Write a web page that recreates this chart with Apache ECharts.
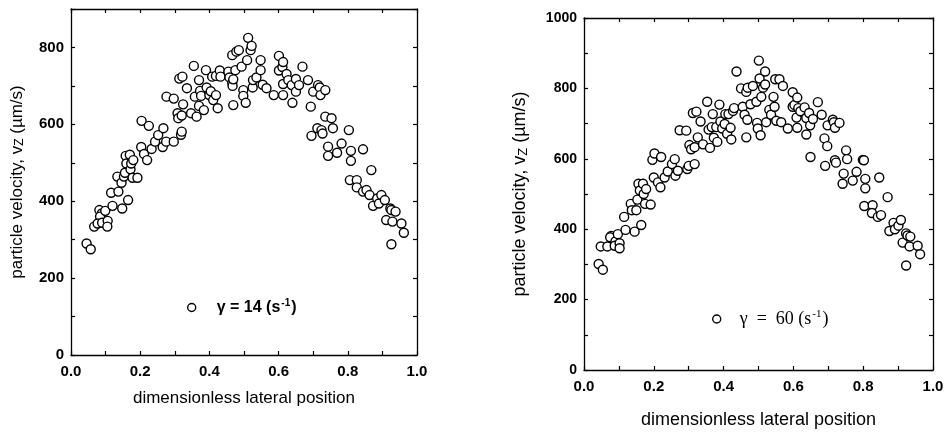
<!DOCTYPE html>
<html><head><meta charset="utf-8">
<script src="https://cdn.jsdelivr.net/npm/echarts@6/dist/echarts.min.js"></script>
<style>html,body{margin:0;padding:0;background:#fff}#c{width:948px;height:434px}</style>
</head><body><div id="c"></div>
<script>
// Left panel: gamma = 14 s^-1
const posLeft = [0.045,0.057,0.067,0.082,0.089,0.084,0.077,0.090,0.099,0.106,0.105,0.116,0.120,0.134,0.137,0.146,0.148,0.153,0.156,0.158,0.160,0.165,0.170,0.172,0.174,0.180,0.178,0.192,0.204,0.203,0.211,0.220,0.225,0.233,0.243,0.252,0.267,0.265,0.275,0.276,0.297,0.297,0.308,0.310,0.313,0.318,0.320,0.322,0.324,0.320,0.335,0.347,0.355,0.358,0.363,0.370,0.370,0.373,0.376,0.384,0.390,0.392,0.400,0.404,0.408,0.411,0.419,0.424,0.419,0.430,0.432,0.455,0.458,0.466,0.467,0.469,0.466,0.478,0.485,0.475,0.469,0.493,0.498,0.498,0.505,0.509,0.512,0.519,0.522,0.525,0.526,0.536,0.548,0.548,0.554,0.565,0.586,0.601,0.601,0.611,0.613,0.613,0.613,0.623,0.628,0.638,0.640,0.650,0.650,0.659,0.669,0.685,0.693,0.700,0.714,0.719,0.721,0.735,0.695,0.712,0.724,0.727,0.735,0.743,0.743,0.753,0.757,0.769,0.782,0.803,0.809,0.809,0.806,0.826,0.826,0.844,0.844,0.854,0.863,0.868,0.873,0.885,0.890,0.897,0.907,0.911,0.923,0.926,0.929,0.926,0.938,0.955,0.962];
const velLeft = [290,275,334,377,368,360,342,344,375,349,334,422,388,464,425,448,381,464,474,518,498,403,521,483,498,507,461,461,609,541,523,507,596,536,555,572,590,541,555,672,667,555,629,616,719,573,581,724,652,623,694,629,752,672,620,648,715,687,674,637,741,696,676,686,724,663,676,642,726,740,724,737,722,708,700,650,780,789,793,741,717,750,689,674,656,767,825,793,804,696,715,722,767,741,703,694,676,778,740,749,762,705,676,731,715,702,656,718,685,702,750,715,646,685,702,696,676,689,570,590,585,576,620,542,518,616,590,526,550,585,531,505,455,455,436,535,425,429,416,481,388,407,394,416,403,351,381,377,347,288,373,342,318];
// Right panel: gamma = 60 s^-1
const posRight = [0.042,0.054,0.048,0.067,0.078,0.075,0.090,0.088,0.097,0.102,0.102,0.115,0.119,0.134,0.137,0.145,0.150,0.153,0.156,0.160,0.164,0.169,0.171,0.178,0.175,0.191,0.196,0.202,0.200,0.212,0.219,0.221,0.231,0.240,0.252,0.260,0.262,0.269,0.274,0.293,0.296,0.300,0.302,0.307,0.312,0.317,0.317,0.322,0.326,0.334,0.341,0.353,0.357,0.361,0.366,0.369,0.372,0.379,0.382,0.388,0.391,0.396,0.403,0.405,0.410,0.414,0.420,0.422,0.427,0.430,0.437,0.450,0.455,0.460,0.465,0.468,0.469,0.465,0.477,0.484,0.494,0.496,0.498,0.501,0.503,0.506,0.508,0.513,0.519,0.519,0.522,0.531,0.536,0.543,0.546,0.548,0.551,0.560,0.565,0.570,0.584,0.598,0.598,0.603,0.611,0.611,0.614,0.609,0.620,0.632,0.637,0.637,0.645,0.648,0.649,0.656,0.670,0.681,0.689,0.697,0.691,0.698,0.713,0.716,0.719,0.719,0.722,0.732,0.744,0.741,0.751,0.754,0.770,0.781,0.799,0.802,0.806,0.806,0.803,0.827,0.825,0.846,0.842,0.851,0.870,0.875,0.887,0.891,0.901,0.908,0.913,0.923,0.927,0.933,0.923,0.935,0.956,0.963];
const velRight = [301,285,351,351,381,377,365,353,386,360,346,435,398,472,454,393,454,484,529,510,412,529,500,514,472,470,597,615,547,533,519,605,547,564,585,599,552,566,681,680,571,580,639,627,730,585,633,734,661,706,641,762,683,631,690,727,660,690,648,754,706,686,699,727,671,727,688,655,736,744,848,800,748,725,790,711,802,661,755,807,762,702,686,879,828,667,776,802,848,811,704,739,725,776,748,826,708,826,704,807,686,789,748,753,774,688,744,717,735,746,669,716,730,695,605,713,761,725,658,636,580,695,711,704,688,596,589,702,558,529,624,599,538,563,597,596,543,516,466,468,446,547,435,440,491,395,418,400,410,426,362,388,382,351,297,379,353,329];
// Axis ticks / labels
const xTickStep = 0.1;
const yTickStep = 100;
const yMaxLeft = 900;
const yMaxRight = 1000;
const seriesNames = ['γ = 14 (s-1)', 'γ = 60 (s-1)'];

function pairs(xs, ys){ return xs.map((x,i)=>[x, ys[i]]); }

const SANS = '"Liberation Sans", Arial, sans-serif';
const SERIF = '"Liberation Serif", "Times New Roman", serif';

function xAx(gi, pos, show, fs){
  return {
    type:'value', gridIndex:gi, position:pos, min:0, max:1, interval:xTickStep,
    axisLine:{show:true, onZero:false, lineStyle:{color:'#000', width:1.3}},
    axisTick:{show:true, inside:true, length:4, lineStyle:{color:'#000', width:1.2}},
    splitLine:{show:false},
    axisLabel:{show:show, margin:9, color:'#000', fontFamily:SANS, fontSize:fs, fontWeight:'bold',
      formatter:v=>{const k=Math.round(v*10); return k%2===0 ? (k/10).toFixed(1) : '';}},
    name: show ? 'dimensionless lateral position' : '',
    nameLocation:'middle', nameGap: gi===0 ? 35 : 41,
    nameTextStyle:{color:'#000', fontFamily:SANS, fontSize: gi===0 ? 17 : 18}
  };
}
function yAx(gi, pos, show, max, fs){
  return {
    type:'value', gridIndex:gi, position:pos, min:0, max:max, interval:yTickStep,
    axisLine:{show:true, onZero:false, lineStyle:{color:'#000', width:1.3}},
    axisTick:{show:true, inside:true, length:4, lineStyle:{color:'#000', width:1.2}},
    splitLine:{show:false},
    axisLabel:{show:show, margin:7, color:'#000', fontFamily:SANS, fontSize:fs, fontWeight:'bold',
      formatter:v=>{const k=Math.round(v); return (k%200===0 && k<=800+ (max===1000?200:0)) ? String(k) : '';}},
    name: show ? 'particle velocity, v{sub|Z} (µm/s)' : '',
    nameLocation:'middle', nameRotate:90, nameGap: gi===0 ? 45 : 54,
    nameTextStyle:{color:'#000', fontFamily:SANS, fontSize: gi===0 ? 17 : 18,
      rich:{sub:{fontFamily:SANS, fontSize: gi===0 ? 12 : 13, color:'#000', verticalAlign:'bottom', padding:[6,0,0,0]}}}
  };
}

const chart = echarts.init(document.getElementById('c'), null, {renderer:'canvas'});
chart.setOption({
  animation:false,
  backgroundColor:'#fff',
  grid:[
    {left:71, top:9, width:346, height:346},
    {left:584, top:18, width:349, height:357}
  ],
  xAxis:[xAx(0,'bottom',true,15), xAx(0,'top',false,15), xAx(1,'bottom',true,15), xAx(1,'top',false,15)],
  yAxis:[yAx(0,'left',true,yMaxLeft,15), yAx(0,'right',false,yMaxLeft,15), yAx(1,'left',true,yMaxRight,14), yAx(1,'right',false,yMaxRight,14)],
  legend:[
    {data:[seriesNames[0]], left:182, top:293, orient:'horizontal', icon:'circle', itemWidth:8, itemHeight:8,
     itemStyle:{borderWidth:1.4},
     formatter:()=>'{t|γ = 14 (s}{s|-1}{t|)}',
     textStyle:{padding:[0,0,0,16], rich:{
       t:{fontFamily:SANS, fontSize:16, fontWeight:'bold', color:'#000', lineHeight:19},
       s:{fontFamily:SANS, fontSize:10, fontWeight:'bold', color:'#000', verticalAlign:'top', lineHeight:19, padding:[0,1,8,1]}}}},
    {data:[seriesNames[1]], left:707, top:304, orient:'horizontal', icon:'circle', itemWidth:8, itemHeight:8,
     itemStyle:{borderWidth:1.4},
     formatter:()=>'{t|γ  =  60 (s}{s|-1}{t|)}',
     textStyle:{padding:[0,0,0,14], rich:{
       t:{fontFamily:SERIF, fontSize:18, color:'#000', lineHeight:20},
       s:{fontFamily:SERIF, fontSize:11, color:'#000', verticalAlign:'top', lineHeight:20, padding:[0,1,8,1]}}}}
  ],
  series:[
    {name:seriesNames[0], type:'scatter', xAxisIndex:0, yAxisIndex:0, data:pairs(posLeft, velLeft),
     symbol:'circle', symbolSize:9, itemStyle:{color:'#fff', borderColor:'#000', borderWidth:1.4, opacity:1}},
    {name:seriesNames[1], type:'scatter', xAxisIndex:2, yAxisIndex:2, data:pairs(posRight, velRight),
     symbol:'circle', symbolSize:9, itemStyle:{color:'#fff', borderColor:'#000', borderWidth:1.4, opacity:1}}
  ]
});
</script></body></html>
